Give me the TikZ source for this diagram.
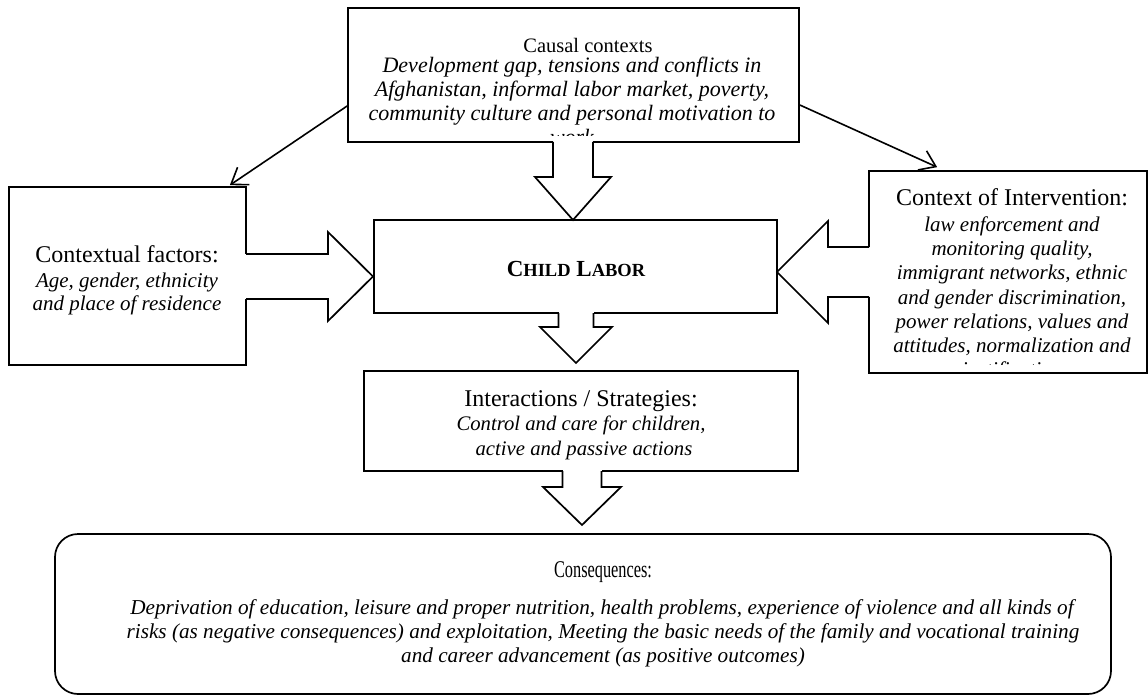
\documentclass[tikz,border=0pt]{standalone}
\usepackage{fontspec}
\setmainfont{Liberation Serif}
\usetikzlibrary{arrows.meta,calc}
% down block arrow: #1 x-centre, #2 y of box edge, #3 shaft half width, #4 y of head, #5 head half width, #6 y of tip
\newcommand\blkdn[6]{%
  \fill[white] ({#1-#3},{#2-3}) rectangle ({#1+#3},{#4});
  \draw[blk] ({#1-#3},{#2}) -- ({#1-#3},{#4}) -- ({#1-#5},{#4}) -- ({#1},{#6}) -- ({#1+#5},{#4}) -- ({#1+#3},{#4}) -- ({#1+#3},{#2});}
% horizontal block arrow: #1 y-centre, #2 x of box edge, #3 x inside box, #4 shaft half, #5 x of head, #6 head half, #7 x of tip
\newcommand\blkh[7]{%
  \fill[white] ({#3},{#1-#4}) rectangle ({#5},{#1+#4});
  \draw[blk] ({#2},{#1-#4}) -- ({#5},{#1-#4}) -- ({#5},{#1-#6}) -- ({#7},{#1}) -- ({#5},{#1+#6}) -- ({#5},{#1+#4}) -- ({#2},{#1+#4});}
\begin{document}
\begin{tikzpicture}[x=1pt,y=-1pt,
  box/.style={draw,line width=1.7pt,inner sep=0pt},
  blk/.style={line width=1.7pt,line join=miter},
  diag/.style={line width=1.6pt,-{Straight Barb[length=15pt,width=21pt,line width=1.6pt]}},
  txt/.style={anchor=base,inner sep=0pt},
  ttl/.style={txt,font=\fontsize{24}{24}\selectfont},
  itl/.style={txt,font=\fontsize{21}{24}\selectfont\itshape},
]
\useasboundingbox (0,0) rectangle (1148,698);

% boxes
\node[box,minimum width=451,minimum height=134] (causal) at (573.5,75) {};
\node[box,minimum width=403,minimum height=93] (child) at (575.5,266.5) {};
\node[box,minimum width=237,minimum height=178] (ctx) at (127.5,276) {};
\node[box,minimum width=278,minimum height=202] (intv) at (1008,272) {};
\node[box,minimum width=434,minimum height=100] (inter) at (581,421) {};
\node[box,rounded corners=23pt,minimum width=1056,minimum height=160] (cons) at (583,614) {};

% block arrows
\blkdn{573}{142}{20}{177}{38}{220}
\blkdn{576}{313}{17.5}{327}{36}{363}
\blkdn{582}{471}{19.5}{487}{39}{525}
\blkh{276.5}{246}{243}{22.5}{328}{44.5}{373}
\blkh{272}{869}{872}{25}{828}{51}{777}

% diagonal arrows
\draw[diag] ([yshift=-31pt]causal.west) -- ([xshift=-17pt,yshift=1pt]ctx.north east);
\draw[diag] ([yshift=-30pt]causal.east) -- ([xshift=69pt,yshift=3pt]intv.north west);

% top box text
\begin{scope}
\clip (349,9) rectangle (798,136);
\node[txt,font=\fontsize{20.5}{24}\selectfont] (t0) at (588,53) {Causal contexts};
\node[itl,font=\fontsize{22}{24}\selectfont\itshape] (t1) at (572,73) {Development gap, tensions and conflicts in};
\node[itl,font=\fontsize{22}{24}\selectfont\itshape] (t2) at (572,97) {Afghanistan, informal labor market, poverty,};
\node[itl,font=\fontsize{22}{24}\selectfont\itshape] (t3) at (572,121) {community culture and personal motivation to};
\node[itl,font=\fontsize{22}{24}\selectfont\itshape] (t4) at (572,145) {work};
\end{scope}

% child labor
\node[txt,font=\bfseries\fontsize{23}{24}\selectfont] (c0) at (576,276)
  {C{\fontsize{18.5}{24}\selectfont HILD} L{\fontsize{18.5}{24}\selectfont ABOR}};

% contextual factors
\node[ttl] (l0) at (127,262) {Contextual factors:};
\node[itl] (l1) at (127,287) {Age, gender, ethnicity};
\node[itl] (l2) at (127,310) {and place of residence};

% context of intervention
\begin{scope}
\clip (870,172) rectangle (1147,364);
\node[ttl] (r0) at (1012,205) {Context of Intervention:};
\node[itl] (r1) at (1012,231) {law enforcement and};
\node[itl] (r2) at (1012,255) {monitoring quality,};
\node[itl] (r3) at (1012,279) {immigrant networks, ethnic};
\node[itl] (r4) at (1012,304) {and gender discrimination,};
\node[itl] (r5) at (1012,328) {power relations, values and};
\node[itl] (r6) at (1012,352) {attitudes, normalization and};
\node[itl] (r7) at (1012,376) {justification};
\end{scope}

% interactions
\node[ttl] (i0) at (581,406) {Interactions / Strategies:};
\node[itl,font=\fontsize{20.7}{24}\selectfont\itshape] (i1) at (581,430) {Control and care for children,};
\node[itl,font=\fontsize{20.7}{24}\selectfont\itshape] (i2) at (584,455) {active and passive actions};

% consequences
\node[txt,font=\fontsize{24}{24}\selectfont,xscale=0.68] (q0) at (603,577) {Consequences:};
\node[itl,font=\fontsize{21.2}{24}\selectfont\itshape] (q1) at (602,614) {Deprivation of education, leisure and proper nutrition, health problems, experience of violence and all kinds of};
\node[itl,font=\fontsize{21.2}{24}\selectfont\itshape] (q2) at (603,638) {risks (as negative consequences) and exploitation, Meeting the basic needs of the family and vocational training};
\node[itl,font=\fontsize{21.2}{24}\selectfont\itshape] (q3) at (603,662) {and career advancement (as positive outcomes)};
\end{tikzpicture}
\end{document}
